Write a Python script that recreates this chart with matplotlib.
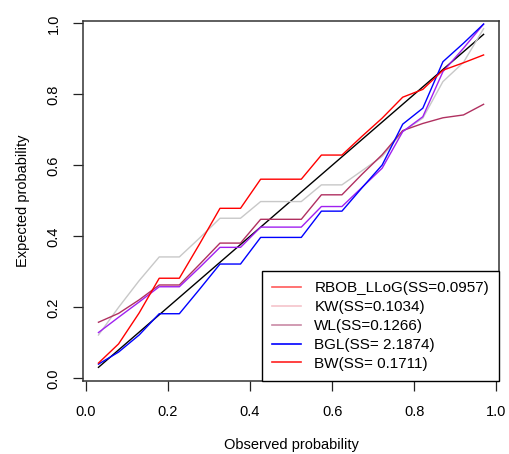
import matplotlib
matplotlib.use("Agg")
import matplotlib.pyplot as plt
from matplotlib.lines import Line2D

plt.rcParams['font.family'] = ['Liberation Sans', 'DejaVu Sans']

# observed probabilities (plotting positions)
observed = [0.031, 0.080, 0.130, 0.179, 0.228, 0.278, 0.327, 0.377, 0.426, 0.475,
            0.525, 0.574, 0.624, 0.673, 0.722, 0.772, 0.821, 0.870, 0.920, 0.969]

# expected probabilities
rbob_llog = [0.043, 0.097, 0.184, 0.282, 0.282, 0.380, 0.479, 0.479, 0.561, 0.561,
             0.561, 0.629, 0.629, 0.682, 0.733, 0.792, 0.814, 0.868, 0.889, 0.911]
kw = [0.122, 0.200, 0.275, 0.342, 0.342, 0.396, 0.451, 0.451, 0.498, 0.498,
      0.498, 0.545, 0.545, 0.585, 0.625, 0.695, 0.733, 0.836, 0.890, 0.985]
wl = [0.158, 0.183, 0.221, 0.263, 0.263, 0.322, 0.381, 0.381, 0.448, 0.448,
      0.448, 0.517, 0.517, 0.575, 0.630, 0.698, 0.718, 0.734, 0.742, 0.772]
bgl = [0.040, 0.074, 0.122, 0.182, 0.182, 0.252, 0.322, 0.322, 0.397, 0.397,
       0.397, 0.471, 0.471, 0.537, 0.601, 0.716, 0.761, 0.892, 0.944, 0.998]
bw = [0.129, 0.172, 0.215, 0.258, 0.258, 0.313, 0.369, 0.369, 0.426, 0.426,
      0.426, 0.484, 0.484, 0.538, 0.592, 0.695, 0.737, 0.864, 0.930, 0.998]

legend_labels = ["RBOB_LLoG(SS=0.0957)", "KW(SS=0.1034)", "WL(SS=0.1266)",
                 "BGL(SS= 2.1874)", "BW(SS= 0.1711)"]
legend_colors = ["#ff5a5a", "#f5c3cb", "#c98aa6", "#0000ff", "#ff2020"]

fig = plt.figure(figsize=(5.09, 4.54), dpi=100)
ax = fig.add_axes([0.1631, 0.1615, 0.8173, 0.7922])

lw = 1.0
ax.plot(observed, observed, color="black", lw=lw)
ax.plot(observed, kw, color="#c8c8c8", lw=lw)
ax.plot(observed, wl, color="#b03060", lw=lw)
ax.plot(observed, bw, color="#a020f0", lw=lw)
ax.plot(observed, bgl, color="#0000ff", lw=lw)
ax.plot(observed, rbob_llog, color="#ff0000", lw=lw)

ax.set_xlim(-0.0066, 1.0066)
ax.set_ylim(-0.0066, 1.0066)
ticks = [0.0, 0.2, 0.4, 0.6, 0.8, 1.0]
ax.set_xticks(ticks)
ax.set_yticks(ticks)
ax.set_xticklabels(["%.1f" % t for t in ticks])
ax.set_yticklabels(["%.1f" % t for t in ticks], rotation=90, va="center")
ax.tick_params(length=7.2, width=0.9, labelsize=10.5, color="#222222")
ax.tick_params(axis="x", pad=10)
ax.tick_params(axis="y", pad=9)
for s in ax.spines.values():
    s.set_linewidth(1.1)
    s.set_color("#333333")

ax.set_xlabel("Observed probability", fontsize=10.5, labelpad=14)
ax.set_ylabel("Expected probability", fontsize=10.5, labelpad=12)

handles = [Line2D([], [], color=c, lw=1.2) for c in legend_colors]
leg = ax.legend(handles, legend_labels, loc="lower right", bbox_to_anchor=(1.0, 0.0),
                borderaxespad=0, fontsize=11, handlelength=1.85, handletextpad=0.9,
                labelspacing=0.32, borderpad=0.65, fancybox=False, framealpha=1)
leg.get_frame().set_edgecolor("black")
leg.get_frame().set_linewidth(1.0)

fig.savefig("out.png", dpi=100)
